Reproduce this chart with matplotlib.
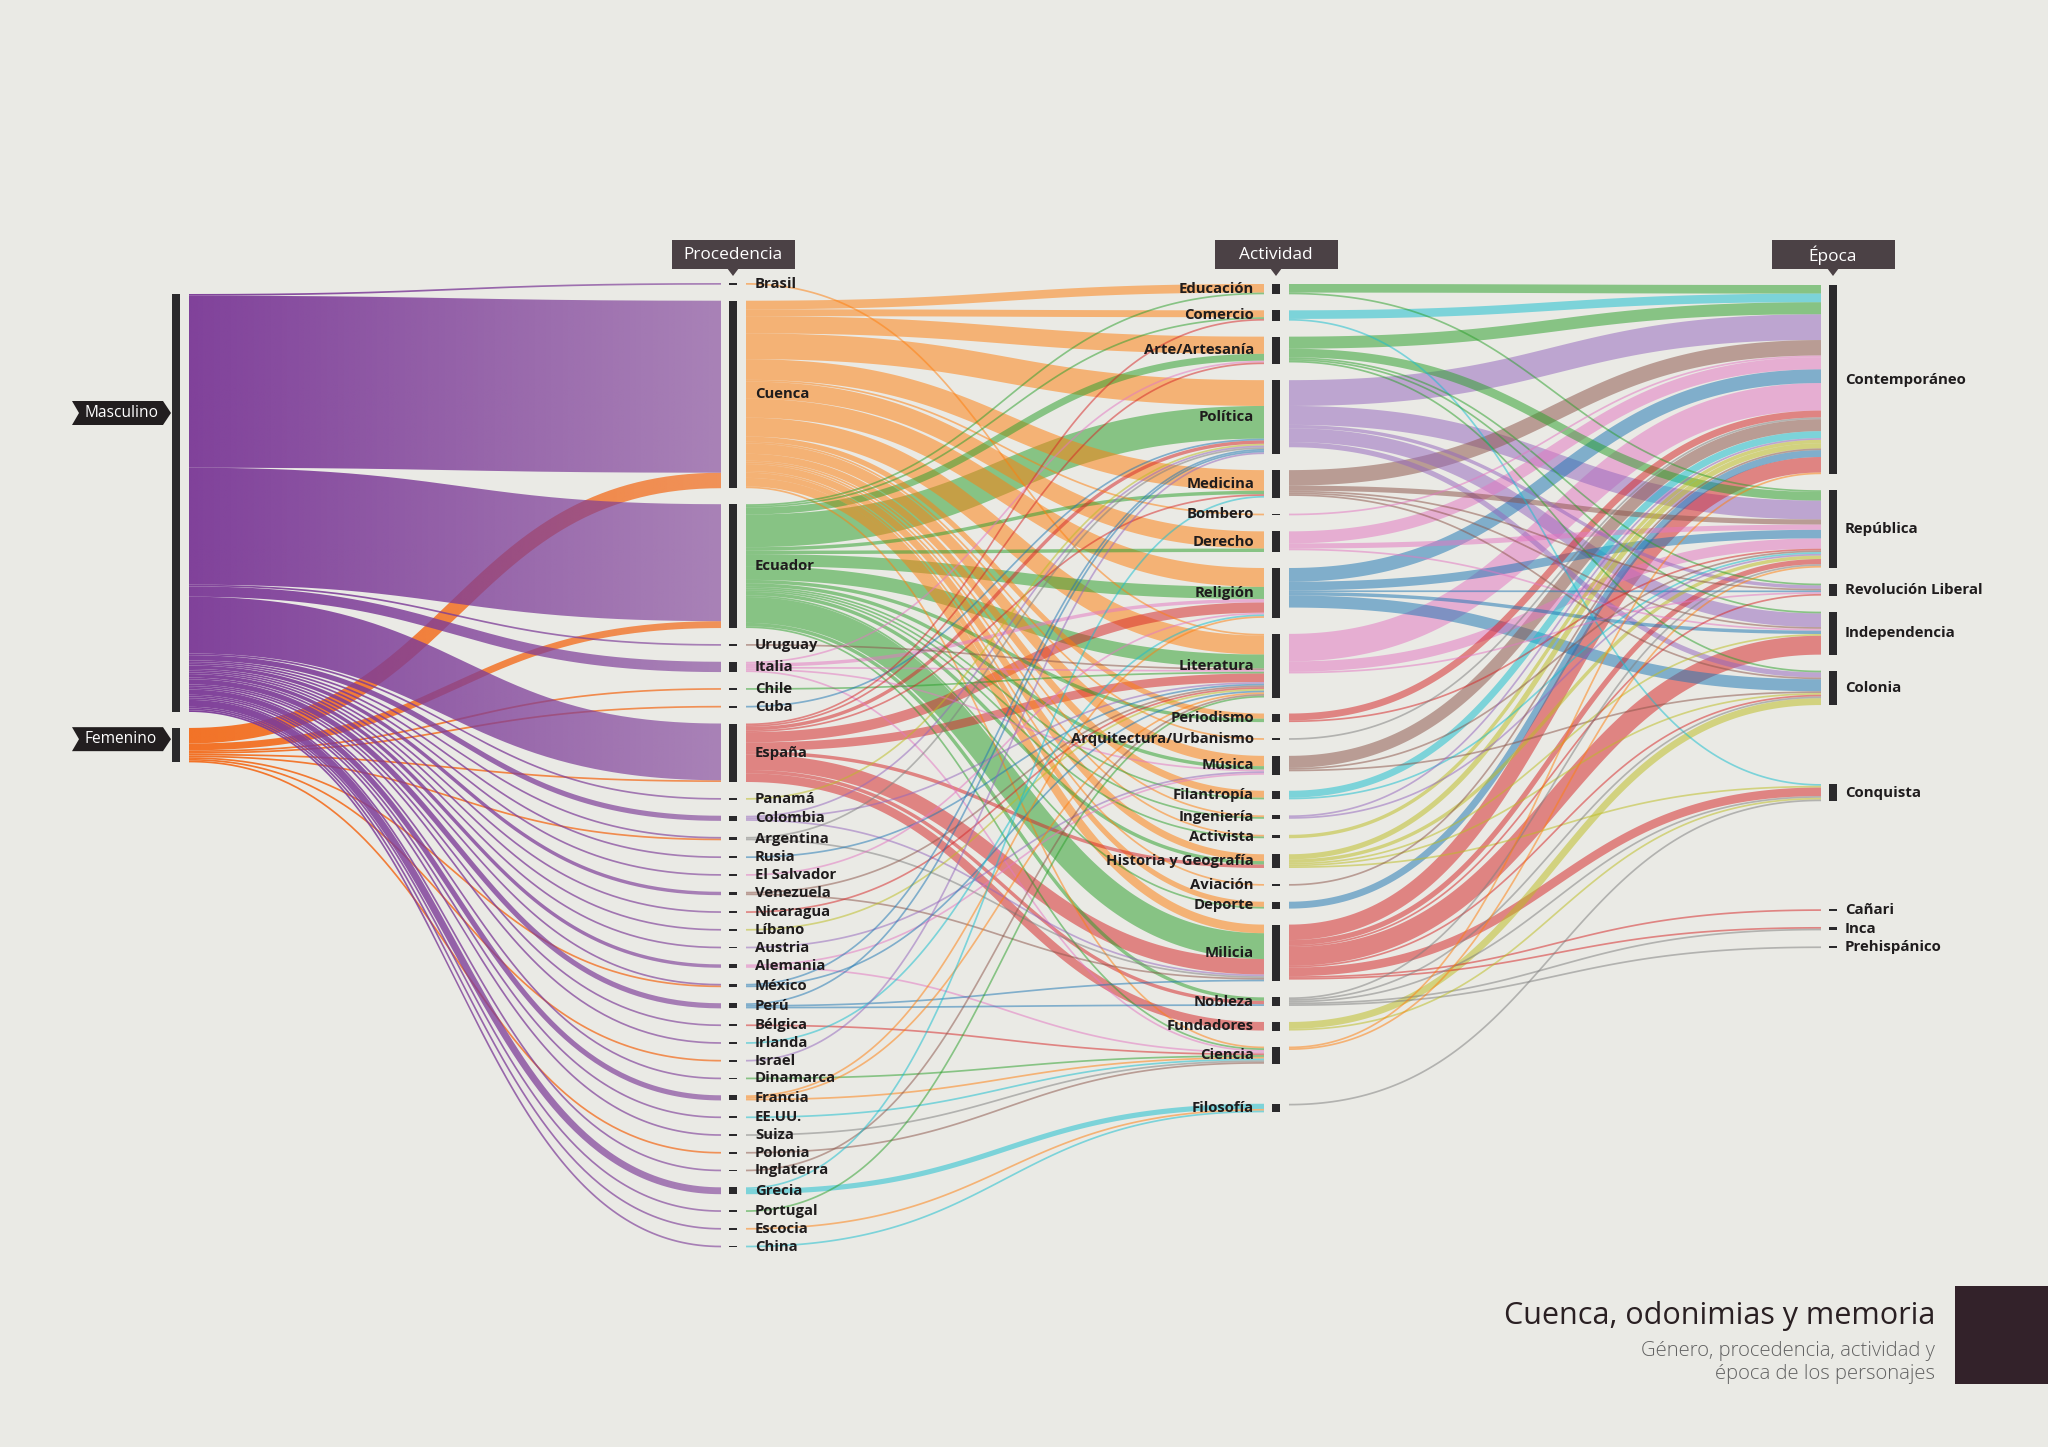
import numpy as np
import matplotlib
matplotlib.use("Agg")
import matplotlib.pyplot as plt
from matplotlib.path import Path
from matplotlib.patches import PathPatch, Polygon, Rectangle
from matplotlib.colors import to_rgb

# ---------------- data ----------------
genero = ["Masculino", "Femenino"]

procedencia = ["Brasil", "Cuenca", "Ecuador", "Uruguay", "Italia", "Chile", "Cuba", "España",
               "Panamá", "Colombia", "Argentina", "Rusia", "El Salvador", "Venezuela", "Nicaragua",
               "Líbano", "Austria", "Alemania", "México", "Perú", "Bélgica", "Irlanda", "Israel",
               "Dinamarca", "Francia", "EE.UU.", "Suiza", "Polonia", "Inglaterra", "Grecia",
               "Portugal", "Escocia", "China"]

# personas por género y procedencia (mismo orden que procedencia)
masculino = [1, 100, 68, 1, 6, 0, 0, 33, 1, 3, 1, 1, 1, 2, 1, 1, 1, 2, 1, 3, 1, 1, 0, 1, 3, 1, 1, 0, 1, 4, 1, 1, 1]
femenino = [0, 9, 4, 0, 0, 1, 1, 1, 0, 0, 1, 0, 0, 0, 0, 0, 0, 0, 1, 0, 0, 0, 1, 0, 0, 0, 0, 1, 0, 0, 0, 0, 0]

actividad = ["Educación", "Comercio", "Arte/Artesanía", "Política", "Medicina", "Bombero", "Derecho",
             "Religión", "Literatura", "Periodismo", "Arquitectura/Urbanismo", "Música", "Filantropía",
             "Ingeniería", "Activista", "Historia y Geografía", "Aviación", "Deporte", "Milicia",
             "Nobleza", "Fundadores", "Ciencia", "Filosofía"]

epoca = ["Contemporáneo", "República", "Revolución Liberal", "Independencia", "Colonia",
         "Conquista", "Cañari", "Inca", "Prehispánico"]

proc_act = [
    ("Brasil", "Literatura", 1),
    ("Cuenca", "Educación", 5), ("Cuenca", "Comercio", 4), ("Cuenca", "Arte/Artesanía", 10),
    ("Cuenca", "Política", 15), ("Cuenca", "Medicina", 12), ("Cuenca", "Bombero", 1),
    ("Cuenca", "Derecho", 10), ("Cuenca", "Religión", 11), ("Cuenca", "Literatura", 11),
    ("Cuenca", "Periodismo", 3), ("Cuenca", "Arquitectura/Urbanismo", 1), ("Cuenca", "Música", 6),
    ("Cuenca", "Filantropía", 4), ("Cuenca", "Ingeniería", 1), ("Cuenca", "Activista", 1),
    ("Cuenca", "Historia y Geografía", 4), ("Cuenca", "Aviación", 1), ("Cuenca", "Deporte", 3),
    ("Cuenca", "Milicia", 5), ("Cuenca", "Ciencia", 1),
    ("Ecuador", "Educación", 1), ("Ecuador", "Comercio", 1), ("Ecuador", "Arte/Artesanía", 4),
    ("Ecuador", "Política", 19), ("Ecuador", "Medicina", 2), ("Ecuador", "Derecho", 2),
    ("Ecuador", "Religión", 7), ("Ecuador", "Literatura", 8), ("Ecuador", "Periodismo", 2),
    ("Ecuador", "Música", 2), ("Ecuador", "Filantropía", 1), ("Ecuador", "Ingeniería", 1),
    ("Ecuador", "Activista", 1), ("Ecuador", "Historia y Geografía", 2), ("Ecuador", "Deporte", 1),
    ("Ecuador", "Milicia", 15), ("Ecuador", "Nobleza", 2), ("Ecuador", "Ciencia", 1),
    ("Uruguay", "Literatura", 1),
    ("Italia", "Arte/Artesanía", 1), ("Italia", "Religión", 2), ("Italia", "Literatura", 1),
    ("Italia", "Música", 1), ("Italia", "Ciencia", 1),
    ("Chile", "Literatura", 1),
    ("Cuba", "Política", 1),
    ("España", "Comercio", 1), ("España", "Arte/Artesanía", 1), ("España", "Política", 2),
    ("España", "Medicina", 1), ("España", "Religión", 6), ("España", "Literatura", 5),
    ("España", "Historia y Geografía", 2), ("España", "Milicia", 9), ("España", "Nobleza", 2),
    ("España", "Fundadores", 5),
    ("Panamá", "Política", 1),
    ("Colombia", "Política", 1), ("Colombia", "Literatura", 1), ("Colombia", "Milicia", 1),
    ("Argentina", "Política", 1), ("Argentina", "Milicia", 1),
    ("Rusia", "Literatura", 1),
    ("El Salvador", "Religión", 1),
    ("Venezuela", "Literatura", 1), ("Venezuela", "Milicia", 1),
    ("Nicaragua", "Literatura", 1),
    ("Líbano", "Literatura", 1),
    ("Austria", "Música", 1),
    ("Alemania", "Música", 1), ("Alemania", "Ciencia", 1),
    ("México", "Política", 1), ("México", "Literatura", 1),
    ("Perú", "Política", 1), ("Perú", "Milicia", 1), ("Perú", "Nobleza", 1),
    ("Bélgica", "Ciencia", 1),
    ("Irlanda", "Religión", 1),
    ("Israel", "Política", 1),
    ("Dinamarca", "Ciencia", 1),
    ("Francia", "Religión", 1), ("Francia", "Literatura", 1), ("Francia", "Ciencia", 1),
    ("EE.UU.", "Ciencia", 1),
    ("Suiza", "Ciencia", 1),
    ("Polonia", "Ciencia", 1),
    ("Inglaterra", "Literatura", 1),
    ("Grecia", "Medicina", 1), ("Grecia", "Filosofía", 3),
    ("Portugal", "Literatura", 1),
    ("Escocia", "Filosofía", 1),
    ("China", "Filosofía", 1),
]

act_epoca = [
    ("Educación", "Contemporáneo", 5), ("Educación", "República", 1),
    ("Comercio", "Contemporáneo", 5), ("Comercio", "Conquista", 1),
    ("Arte/Artesanía", "Contemporáneo", 7), ("Arte/Artesanía", "República", 5),
    ("Arte/Artesanía", "Revolución Liberal", 1), ("Arte/Artesanía", "Independencia", 1),
    ("Arte/Artesanía", "Colonia", 1),
    ("Política", "Contemporáneo", 15), ("Política", "República", 11),
    ("Política", "Revolución Liberal", 2), ("Política", "Independencia", 8), ("Política", "Colonia", 3),
    ("Medicina", "Contemporáneo", 9), ("Medicina", "República", 3), ("Medicina", "Revolución Liberal", 1),
    ("Medicina", "Independencia", 1), ("Medicina", "Colonia", 1),
    ("Bombero", "Contemporáneo", 1),
    ("Derecho", "Contemporáneo", 7), ("Derecho", "República", 3), ("Derecho", "Independencia", 1),
    ("Religión", "Contemporáneo", 8), ("Religión", "República", 5), ("Religión", "Revolución Liberal", 1),
    ("Religión", "Independencia", 2), ("Religión", "Colonia", 7),
    ("Literatura", "Contemporáneo", 16), ("Literatura", "República", 6),
    ("Literatura", "Revolución Liberal", 1),
    ("Periodismo", "Contemporáneo", 4), ("Periodismo", "República", 1),
    ("Arquitectura/Urbanismo", "Contemporáneo", 1),
    ("Música", "Contemporáneo", 7), ("Música", "República", 1), ("Música", "Colonia", 1),
    ("Filantropía", "Contemporáneo", 4), ("Filantropía", "República", 1),
    ("Ingeniería", "Contemporáneo", 1), ("Ingeniería", "República", 1),
    ("Activista", "Contemporáneo", 2),
    ("Historia y Geografía", "Contemporáneo", 3), ("Historia y Geografía", "República", 2),
    ("Historia y Geografía", "Independencia", 1), ("Historia y Geografía", "Colonia", 1),
    ("Historia y Geografía", "Conquista", 1),
    ("Aviación", "Contemporáneo", 1),
    ("Deporte", "Contemporáneo", 4),
    ("Milicia", "Contemporáneo", 9), ("Milicia", "República", 3), ("Milicia", "Revolución Liberal", 1),
    ("Milicia", "Independencia", 11), ("Milicia", "Colonia", 1), ("Milicia", "Conquista", 5),
    ("Milicia", "Cañari", 1), ("Milicia", "Inca", 1),
    ("Nobleza", "República", 1), ("Nobleza", "Colonia", 1), ("Nobleza", "Conquista", 1),
    ("Nobleza", "Inca", 1), ("Nobleza", "Prehispánico", 1),
    ("Fundadores", "Colonia", 4), ("Fundadores", "Conquista", 1),
    ("Ciencia", "Contemporáneo", 1), ("Ciencia", "República", 1),
    ("Filosofía", "Conquista", 1),
]

column_titles = ["Procedencia", "Actividad", "Época"]
title = "Cuenca, odonimias y memoria"
subtitle = ["Género, procedencia, actividad y", "época de los personajes"]

# ---------------- style / layout ----------------
BG = "#eaeae5"
BAR = "#2b2a2c"
TXT = "#1f1c1d"
C10 = {"blue": "#1f77b4", "orange": "#ff7f0e", "green": "#2ca02c", "red": "#d62728",
       "purple": "#9467bd", "brown": "#8c564b", "pink": "#e377c2", "gray": "#7f7f7f",
       "olive": "#bcbd22", "cyan": "#17becf"}
gender_color = {"Masculino": "#7d3c98", "Femenino": "#f36f21"}
proc_color = dict(zip(procedencia, [
    "orange", "orange", "green", "brown", "pink", "green", "blue", "red", "olive", "purple",
    "gray", "blue", "pink", "brown", "red", "olive", "purple", "pink", "blue", "blue", "red",
    "cyan", "purple", "green", "orange", "cyan", "gray", "brown", "brown", "cyan", "green",
    "orange", "cyan"]))
act_color = dict(zip(actividad, [
    "green", "cyan", "green", "purple", "brown", "pink", "pink", "blue", "pink", "red", "gray",
    "brown", "cyan", "purple", "olive", "olive", "brown", "blue", "red", "gray", "olive",
    "orange", "gray"]))

KY = 1.72          # px per person
PAD = 16.0         # px between nodes
BAR_W = 8
COL_X = [176, 733, 1276, 1833]
COL_Y0 = [294, 283, 284, 285]
EXTRA = [{}, {}, {"Filosofía": 24}, {"Conquista": 63, "Cañari": 92}]
LABEL_FS = 5.35

W, H = 2048, 1447
fig = plt.figure(figsize=(W / 200, H / 200), dpi=200)
fig.patch.set_facecolor(BG)
ax = fig.add_axes([0, 0, 1, 1])
ax.set_facecolor(BG)

cols = [genero, procedencia, actividad, epoca]

# ---- build links ----
links = []
for i, p in enumerate(procedencia):
    if masculino[i]:
        links.append([(0, "Masculino"), (1, p), masculino[i]])
    if femenino[i]:
        links.append([(0, "Femenino"), (1, p), femenino[i]])
for s, t, v in proc_act:
    links.append([(1, s), (2, t), v])
for s, t, v in act_epoca:
    links.append([(2, s), (3, t), v])

order = {(c, n): i for c, names in enumerate(cols) for i, n in enumerate(names)}
vin = {k: 0 for k in order}
vout = {k: 0 for k in order}
for s, t, v in links:
    vout[s] += v
    vin[t] += v
nval = {k: max(vin[k], vout[k]) for k in order}

# ---- node layout ----
top = {}
for c, names in enumerate(cols):
    y = COL_Y0[c]
    for n in names:
        y += EXTRA[c].get(n, 0)
        top[(c, n)] = y
        y += nval[(c, n)] * KY + PAD

# ---- link stacking (d3-sankey style) ----
off_out = {k: top[k] for k in order}
off_in = {k: top[k] for k in order}
geo = {}
for idx, (s, t, v) in sorted(enumerate(links), key=lambda e: (order[e[1][0]], order[e[1][1]])):
    geo.setdefault(idx, {})["y0"] = off_out[s] + v * KY / 2
    off_out[s] += v * KY
for idx, (s, t, v) in sorted(enumerate(links), key=lambda e: (order[e[1][1]], order[e[1][0]])):
    geo[idx]["y1"] = off_in[t] + v * KY / 2
    off_in[t] += v * KY


def ribbon(x0, y0, x1, y1, w, n=140):
    t = np.linspace(0, 1, n)
    xm = (x0 + x1) / 2
    bx = (1 - t) ** 3 * x0 + 3 * (1 - t) ** 2 * t * xm + 3 * (1 - t) * t ** 2 * xm + t ** 3 * x1
    by = (1 - t) ** 3 * y0 + 3 * (1 - t) ** 2 * t * y0 + 3 * (1 - t) * t ** 2 * y1 + t ** 3 * y1
    dx = 3 * (1 - t) ** 2 * (xm - x0) + 3 * t ** 2 * (x1 - xm)
    dy = 6 * (1 - t) * t * (y1 - y0)
    L = np.hypot(dx, dy)
    nx, ny = -dy / L, dx / L
    a = np.c_[bx + nx * w / 2, by + ny * w / 2]
    b = np.c_[bx - nx * w / 2, by - ny * w / 2]
    return np.vstack([a, b[::-1]])


# ---- draw links ----
draw = sorted(range(len(links)), key=lambda i: (links[i][0][0], links[i][0][1] == "Masculino", -links[i][2]))
for idx in draw:
    s, t, v = links[idx]
    c = s[0]
    x0 = COL_X[c] + 13
    x1 = COL_X[c + 1] - 12
    w = max(v * KY, 1.3)
    poly = ribbon(x0, geo[idx]["y0"], x1, geo[idx]["y1"], w)
    if c == 0:
        col = to_rgb(gender_color[s[1]])
        patch = PathPatch(Path(poly), facecolor="none", edgecolor="none", transform=ax.transData)
        ax.add_patch(patch)
        rgba = np.zeros((1, 256, 4))
        rgba[..., :3] = col
        a_end = 0.6 if s[1] == "Masculino" else 0.72
        rgba[..., 3] = np.linspace(0.97, a_end, 256)
        ymin, ymax = poly[:, 1].min() - 2, poly[:, 1].max() + 2
        im = ax.imshow(rgba, extent=(x0, x1, ymax, ymin), aspect="auto",
                       interpolation="bilinear", zorder=2 if s[1] == "Masculino" else 1)
        im.set_clip_path(patch)
    else:
        cname = proc_color[s[1]] if c == 1 else act_color[s[1]]
        ax.add_patch(Polygon(poly, closed=True, facecolor=C10[cname], alpha=0.52,
                             edgecolor="none", zorder=3))

# ---- node bars & labels ----
for c, names in enumerate(cols):
    for n in names:
        k = (c, n)
        h = max(nval[k] * KY, 1.8)
        ax.add_patch(Rectangle((COL_X[c] - BAR_W / 2, top[k]), BAR_W, h,
                               facecolor=BAR, edgecolor="none", zorder=5))
        yc = top[k] + nval[k] * KY / 2
        if c == 1:
            ax.text(755, yc, n, ha="left", va="center", fontsize=LABEL_FS, fontweight="bold",
                    color=TXT, family="Open Sans", zorder=6)
        elif c == 2:
            ax.text(1254, yc, n, ha="right", va="center", fontsize=LABEL_FS, fontweight="bold",
                    color=TXT, family="Open Sans", zorder=6)
        elif c == 3:
            ax.text(1845, yc, n, ha="left", va="center", fontsize=5.4, fontweight="bold",
                    color=TXT, family="Open Sans", zorder=6)

# ---- gender ribbons ----
g_label_y = {"Masculino": 413, "Femenino": top[(0, "Femenino")] + nval[(0, "Femenino")] * KY / 2 - 6}
for n in genero:
    yc = g_label_y[n]
    hh = 12
    pts = [(72, yc - hh), (163, yc - hh), (171, yc), (163, yc + hh), (72, yc + hh), (79, yc)]
    ax.add_patch(Polygon(pts, closed=True, facecolor="#221e1f", edgecolor="none", zorder=6))
    ax.text(121, yc, n, ha="center", va="center", fontsize=5.6, color="white",
            family="Open Sans", zorder=7)

# ---- column headers ----
for i, name in enumerate(column_titles):
    xc = COL_X[i + 1]
    ax.add_patch(Rectangle((xc - 61.5, 240), 123, 29, facecolor="#4b4145", edgecolor="none", zorder=6))
    ax.add_patch(Polygon([(xc - 6, 268), (xc + 6, 268), (xc, 276)], closed=True,
                         facecolor="#4b4145", edgecolor="none", zorder=6))
    ax.text(xc, 255, name, ha="center", va="center", fontsize=6.2, color="white",
            family="Open Sans", zorder=7)

# ---- title block ----
ax.text(1935, 1324, title, ha="right", va="baseline", fontsize=11, color="#2a2023",
        family="Open Sans")
ax.text(1935, 1356, subtitle[0], ha="right", va="baseline", fontsize=7.3, color="#626262",
        family="Open Sans", fontweight="light")
ax.text(1935, 1379, subtitle[1], ha="right", va="baseline", fontsize=7.3, color="#626262",
        family="Open Sans", fontweight="light")
ax.add_patch(Rectangle((1955, 1286), 93, 98, facecolor="#33222a", edgecolor="none"))

ax.set_xlim(0, W)
ax.set_ylim(H, 0)
ax.axis("off")
fig.savefig("out.png", dpi=200, facecolor=BG)
